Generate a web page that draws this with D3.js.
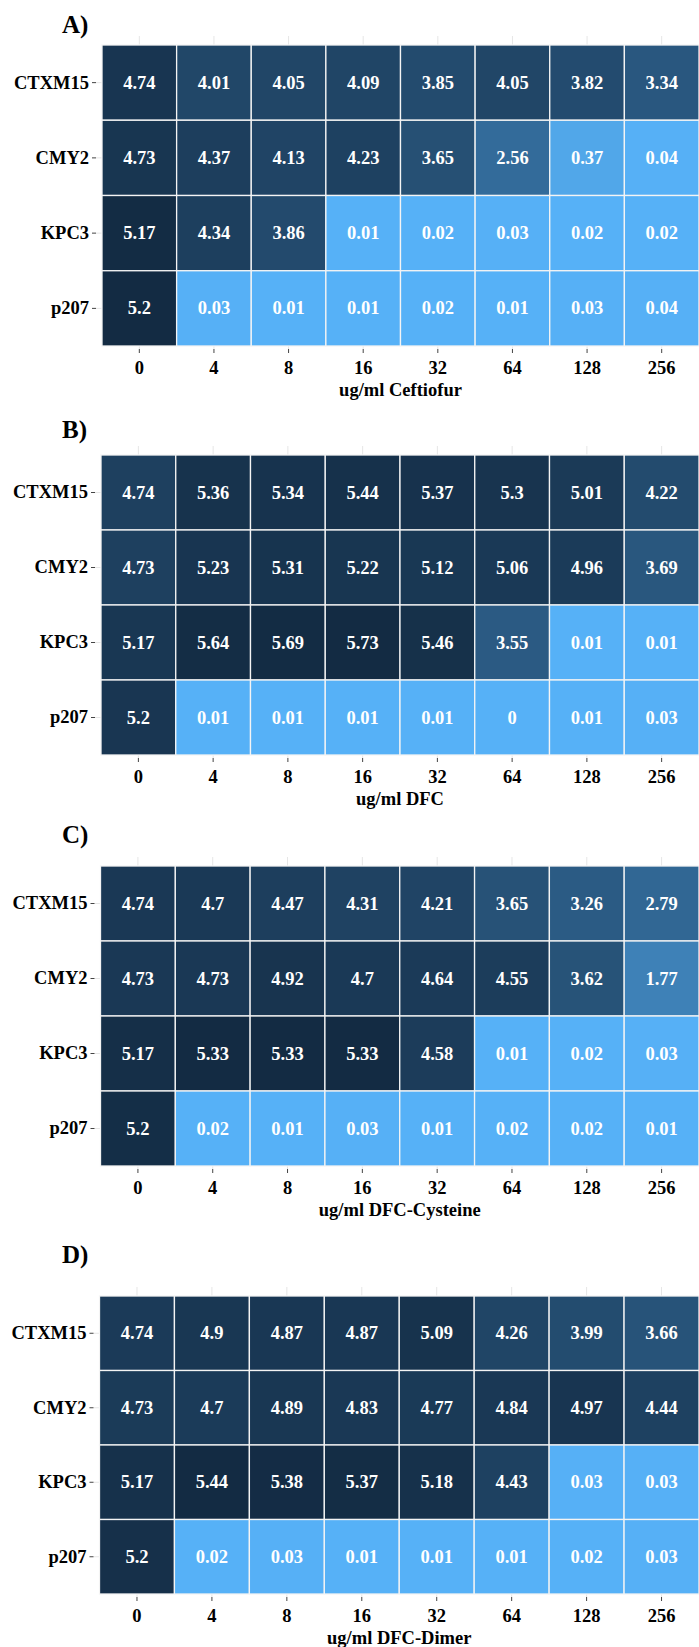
<!DOCTYPE html>
<html>
<head>
<meta charset="utf-8">
<script src="https://cdn.jsdelivr.net/npm/d3@7"></script>
<style>
  html, body { margin: 0; padding: 0; background: #ffffff; }
  svg { display: block; }
  text { font-family: "Liberation Serif", "Times New Roman", serif; font-weight: bold; }
</style>
</head>
<body>
<svg id="chart" width="699" height="1647"></svg>
<script>
// Concentrations (columns) and strains (rows)
const concentrations = ["0", "4", "8", "16", "32", "64", "128", "256"];
const strains = ["CTXM15", "CMY2", "KPC3", "p207"];

// Panel titles and x-axis titles
const panelTitles = ["A)", "B)", "C)", "D)"];
const compoundLabels = ["ug/ml Ceftiofur", "ug/ml DFC", "ug/ml DFC-Cysteine", "ug/ml DFC-Dimer"];

// Values per panel, one row per strain in the order of `strains`
const ceftiofurValues = [
  [4.74, 4.01, 4.05, 4.09, 3.85, 4.05, 3.82, 3.34],
  [4.73, 4.37, 4.13, 4.23, 3.65, 2.56, 0.37, 0.04],
  [5.17, 4.34, 3.86, 0.01, 0.02, 0.03, 0.02, 0.02],
  [5.2, 0.03, 0.01, 0.01, 0.02, 0.01, 0.03, 0.04]
];
const dfcValues = [
  [4.74, 5.36, 5.34, 5.44, 5.37, 5.3, 5.01, 4.22],
  [4.73, 5.23, 5.31, 5.22, 5.12, 5.06, 4.96, 3.69],
  [5.17, 5.64, 5.69, 5.73, 5.46, 3.55, 0.01, 0.01],
  [5.2, 0.01, 0.01, 0.01, 0.01, 0, 0.01, 0.03]
];
const dfcCysteineValues = [
  [4.74, 4.7, 4.47, 4.31, 4.21, 3.65, 3.26, 2.79],
  [4.73, 4.73, 4.92, 4.7, 4.64, 4.55, 3.62, 1.77],
  [5.17, 5.33, 5.33, 5.33, 4.58, 0.01, 0.02, 0.03],
  [5.2, 0.02, 0.01, 0.03, 0.01, 0.02, 0.02, 0.01]
];
const dfcDimerValues = [
  [4.74, 4.9, 4.87, 4.87, 5.09, 4.26, 3.99, 3.66],
  [4.73, 4.7, 4.89, 4.83, 4.77, 4.84, 4.97, 4.44],
  [5.17, 5.44, 5.38, 5.37, 5.18, 4.43, 0.03, 0.03],
  [5.2, 0.02, 0.03, 0.01, 0.01, 0.01, 0.02, 0.03]
];
const panelValues = [ceftiofurValues, dfcValues, dfcCysteineValues, dfcDimerValues];

// Layout of each panel: tile grid box and title offset
const layout = [
  { left: 102,  top: 45,   bottom: 346,  titleY: 24 },
  { left: 101,  top: 455,  bottom: 755,  titleY: 429 },
  { left: 100.5, top: 866, bottom: 1166, titleY: 834 },
  { left: 99.5, top: 1296, bottom: 1594, titleY: 1254 }
];
const right = 699;

const svg = d3.select("#chart");

panelValues.forEach((values, p) => {
  const L = layout[p];
  const g = svg.append("g");

  const x = d3.scaleBand().domain(concentrations).range([L.left, right]).padding(0);
  const y = d3.scaleBand().domain(strains).range([L.top, L.bottom]).padding(0);

  const flat = [];
  values.forEach((row, i) => row.forEach((v, j) => flat.push({ strain: strains[i], conc: concentrations[j], value: v })));

  // Per-panel continuous gradient, light blue for low values, navy for high
  const color = d3.scaleLinear()
    .domain(d3.extent(flat, d => d.value))
    .range(["#56B1F7", "#132B43"])
    .interpolate(d3.interpolateLab);

  // Grid stubs outside the tile area
  const gridTop = L.top - 9, gridBottom = L.bottom + 3, gridLeft = L.left - 6;
  g.selectAll("line.vgrid").data(concentrations).join("line")
    .attr("x1", d => x(d) + x.bandwidth() / 2).attr("x2", d => x(d) + x.bandwidth() / 2)
    .attr("y1", gridTop).attr("y2", gridBottom)
    .attr("stroke", "#e6e6e6").attr("stroke-width", 1);
  g.selectAll("line.hgrid").data(strains).join("line")
    .attr("x1", gridLeft).attr("x2", L.left)
    .attr("y1", d => y(d) + y.bandwidth() / 2).attr("y2", d => y(d) + y.bandwidth() / 2)
    .attr("stroke", "#e6e6e6").attr("stroke-width", 1);

  // Tiles
  g.selectAll("rect.tile").data(flat).join("rect")
    .attr("x", d => x(d.conc)).attr("y", d => y(d.strain))
    .attr("width", x.bandwidth()).attr("height", y.bandwidth())
    .attr("fill", d => color(d.value))
    .attr("stroke", "#f4f4f4").attr("stroke-width", 1.3);

  // Cell value labels
  g.selectAll("text.val").data(flat).join("text")
    .attr("x", d => x(d.conc) + x.bandwidth() / 2)
    .attr("y", d => y(d.strain) + y.bandwidth() / 2)
    .attr("text-anchor", "middle").attr("dominant-baseline", "central")
    .attr("fill", "#ffffff").attr("font-size", 18.5)
    .text(d => String(d.value));

  // Bottom axis
  const xAxis = d3.axisBottom(x).tickSize(4).tickPadding(8);
  const gx = g.append("g").attr("transform", `translate(0,${gridBottom})`).call(xAxis);
  gx.select(".domain").remove();
  gx.selectAll(".tick line").attr("stroke", "#444").attr("stroke-width", 1);
  gx.selectAll(".tick text").attr("font-size", 18.5).attr("fill", "#000")
    .attr("font-family", "Liberation Serif, serif").attr("font-weight", "bold");

  // Left axis
  const yAxis = d3.axisLeft(y).tickSize(4).tickPadding(3);
  const gy = g.append("g").attr("transform", `translate(${gridLeft},0)`).call(yAxis);
  gy.select(".domain").remove();
  gy.selectAll(".tick line").attr("stroke", "#444").attr("stroke-width", 1);
  gy.selectAll(".tick text").attr("font-size", 18.5).attr("fill", "#000")
    .attr("font-family", "Liberation Serif, serif").attr("font-weight", "bold");

  // Axis title
  g.append("text")
    .attr("x", (L.left + right) / 2).attr("y", L.bottom + 44)
    .attr("text-anchor", "middle").attr("dominant-baseline", "central")
    .attr("font-size", 18.5).attr("fill", "#000")
    .text(compoundLabels[p]);

  // Panel tag
  g.append("text")
    .attr("x", 62).attr("y", L.titleY)
    .attr("dominant-baseline", "central")
    .attr("font-size", 25).attr("fill", "#000")
    .text(panelTitles[p]);
});
</script>
</body>
</html>
